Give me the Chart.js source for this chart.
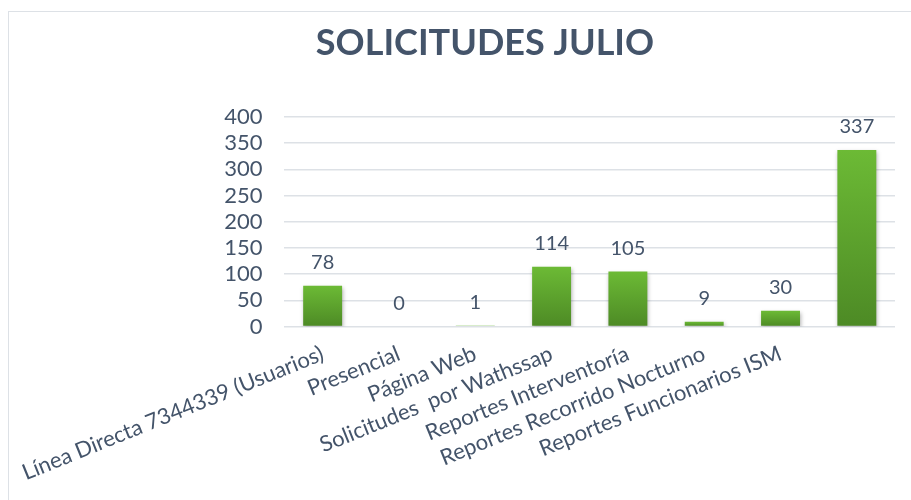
<!DOCTYPE html>
<html>
<head>
<meta charset="utf-8">
<script src="https://cdn.jsdelivr.net/npm/chart.js@4.4.9/dist/chart.umd.min.js"></script>
<style>
    html, body { margin: 0; padding: 0; background: #fff; overflow: hidden; }
    #wrap { position: relative; width: 911px; height: 500px; }
    #frame { position: absolute; left: 8px; top: 11px; right: -10px; bottom: -10px; border-left: 1px solid #dde1e6; border-top: 1px solid #dde1e6; pointer-events: none; }
</style>
</head>
<body>
<div id="wrap">
    <canvas id="solicitudes-chart"></canvas>
    <div id="frame"></div>
</div>
<script>
const chartTitle = 'SOLICITUDES JULIO';
const categories = [
    'Línea Directa 7344339 (Usuarios)',
    'Presencial',
    'Página Web',
    'Solicitudes  por Wathssap',
    'Reportes Interventoría',
    'Reportes Recorrido Nocturno',
    'Reportes Funcionarios ISM',
    ''
];
const solicitudes = [78, 0, 1, 114, 105, 9, 30, 337];
const yTicks = [0, 50, 100, 150, 200, 250, 300, 350, 400];

const textColor = '#44546a';

const barFill = (context) => {
    const chart = context.chart;
    const y = chart.scales.y;
    if (!y || !chart.chartArea || context.type !== 'data') return '#5fa82e';
    const top = y.getPixelForValue(context.raw);
    const base = y.getPixelForValue(0);
    if (!Number.isFinite(top) || !Number.isFinite(base)) return '#5fa82e';
    if (Math.abs(base - top) < 1) return '#6ab934';
    const grad = chart.ctx.createLinearGradient(0, top, 0, base);
    grad.addColorStop(0, '#6cba35');
    grad.addColorStop(1, '#4d8a25');
    return grad;
};

// title drawn centred on the outer frame, not the canvas
const titlePlugin = {
    id: 'frameTitle',
    afterDraw(chart) {
        const ctx = chart.ctx;
        ctx.save();
        ctx.font = 'bold 36px Lato';
        ctx.fillStyle = textColor;
        ctx.textAlign = 'center';
        ctx.textBaseline = 'alphabetic';
        ctx.fillText(chartTitle, 485, 55);
        ctx.restore();
    }
};

const shadowPlugin = {
    id: 'barShadow',
    beforeDatasetsDraw(chart) {
        const ctx = chart.ctx;
        ctx.save();
        ctx.shadowColor = 'rgba(0, 0, 0, 0.3)';
        ctx.shadowBlur = 4;
        ctx.shadowOffsetX = 1;
        ctx.shadowOffsetY = 2;
    },
    afterDatasetsDraw(chart) {
        chart.ctx.restore();
    }
};

const valueLabels = {
    id: 'valueLabels',
    afterDatasetsDraw(chart) {
        const ctx = chart.ctx;
        const meta = chart.getDatasetMeta(0);
        ctx.save();
        ctx.font = '20px Lato';
        ctx.fillStyle = textColor;
        ctx.textAlign = 'center';
        ctx.textBaseline = 'alphabetic';
        meta.data.forEach((bar, i) => {
            ctx.fillText(String(solicitudes[i]), bar.x, bar.y - 17);
        });
        ctx.restore();
    }
};

const ctx = document.getElementById('solicitudes-chart').getContext('2d');

new Chart(ctx, {
    type: 'bar',
    data: {
        labels: categories,
        datasets: [{
            label: 'Solicitudes',
            data: solicitudes,
            backgroundColor: barFill,
            borderWidth: 0,
            categoryPercentage: 1,
            barPercentage: 0.51
        }]
    },
    options: {
        responsive: true,
        maintainAspectRatio: false,
        animation: false,
        layout: {
            padding: { top: 117, right: 16, bottom: 8, left: 22 }
        },
        plugins: {
            legend: { display: false },
            title: { display: false },
            tooltip: { enabled: false }
        },
        scales: {
            x: {
                grid: { display: false },
                border: { display: false },
                ticks: {
                    color: textColor,
                    font: { family: 'Lato', size: 22 },
                    maxRotation: 22,
                    minRotation: 22,
                    autoSkip: false,
                    padding: 6
                }
            },
            y: {
                min: 0,
                max: 400,
                afterBuildTicks: (axis) => {
                    axis.ticks = yTicks.map(v => ({ value: v }));
                },
                afterFit: (axis) => {
                    axis.width = 255;
                },
                grid: {
                    color: '#dde1e6',
                    lineWidth: 1.5,
                    drawTicks: false
                },
                border: { display: false },
                ticks: {
                    color: textColor,
                    font: { family: 'Lato', size: 22 },
                    autoSkip: false,
                    padding: 22
                }
            }
        }
    },
    plugins: [shadowPlugin, valueLabels, titlePlugin]
});
</script>
</body>
</html>
